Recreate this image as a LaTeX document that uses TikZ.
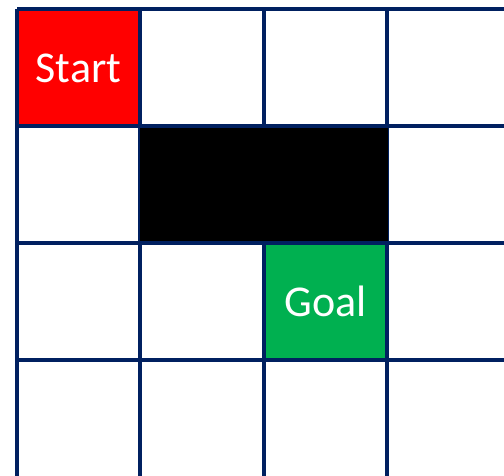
\documentclass[tikz,border=0pt]{standalone}
\usepackage{fontspec}
\setmainfont{Carlito}
\definecolor{gridnavy}{HTML}{002060}
\definecolor{goalgreen}{HTML}{00B050}
\definecolor{startred}{HTML}{FF0000}
\tikzset{
  gridline/.style={draw=gridnavy, line width=4pt},
  celltext/.style={text=white, font=\fontsize{44}{52}\selectfont, inner sep=0pt},
}
\begin{document}
\begin{tikzpicture}[x=1pt,y=-1pt]
\useasboundingbox (0,0) rectangle (504,476);
\fill[white] (0,0) rectangle (504,476);
% coloured cells
\fill[startred] (17,9) rectangle (140,126);
\fill[goalgreen] (264,243) rectangle (387,360);
% grid
\foreach \x in {17,140,264,387} \draw[gridline] (\x,9) -- (\x,478);
\foreach \y in {9,126,243,360} \draw[gridline] (17,\y) -- (506,\y);
% obstacle
\fill[black] (140,128) rectangle (388,241);
% labels
\node[celltext] (start) at (78.5,68) {Start};
\node[celltext] (goal) at (325.5,301) {Goal};
\end{tikzpicture}
\end{document}
